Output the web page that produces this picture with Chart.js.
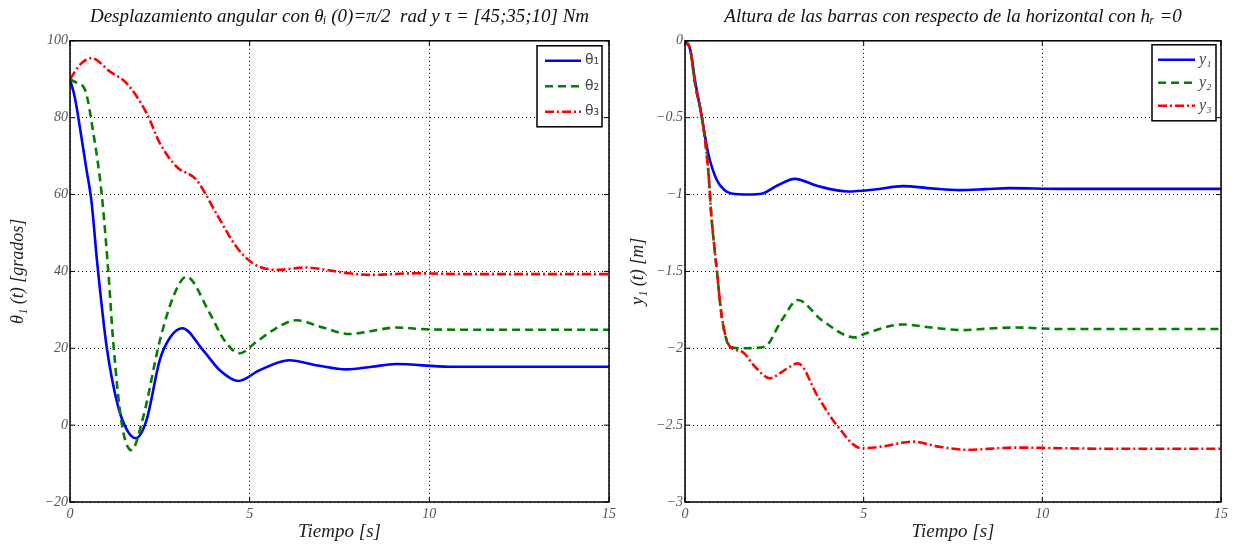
<!DOCTYPE html>
<html><head><meta charset="utf-8">
<script src="https://cdn.jsdelivr.net/npm/chart.js@4.4.1/dist/chart.umd.min.js"></script>
<style>
html,body{margin:0;padding:0;background:#fff;}
#wrapL{position:absolute;left:0;top:0;width:620px;height:550px;}
#wrapR{position:absolute;left:620px;top:0;width:621px;height:550px;}
</style></head><body>
<div id="wrapL"><canvas id="cL"></canvas></div>
<div id="wrapR"><canvas id="cR"></canvas></div>
<script>
// ---------- Data (left: angular displacement, degrees) ----------
const tTheta1 = [0,0.14,0.3,0.45,0.6,0.76,1.02,1.34,1.6,1.83,2.13,2.5,2.8,3.13,3.7,4.2,4.68,5.28,6.1,6.9,7.7,8.4,9.07,10.56,12,15];
const theta1  = [90,85,76,67,58,42,20.4,4.8,-1.5,-3.4,1.3,17,23,25.2,19.5,14,11.5,14.3,16.9,15.5,14.5,15.2,15.9,15.2,15.2,15.2];
const tTheta2 = [0,0.2,0.42,0.65,0.88,1.07,1.2,1.44,1.71,2.04,2.5,2.9,3.24,3.89,4.3,4.72,5.19,5.7,6.3,7.0,7.78,8.4,9.07,10,12,15];
const theta2  = [90,89,87.2,76,60.3,39.5,22,0.4,-6.5,2.2,22,34,38.6,29.1,22,18.7,21.7,25,27.3,25.5,23.7,24.5,25.4,24.9,24.8,24.8];
const tTheta3 = [0,0.3,0.6,1.11,1.57,2.13,2.5,2.96,3.52,4.07,4.63,5.09,5.74,6.57,7.2,7.78,8.33,9.63,11,15];
const theta3  = [90,94,95.5,92,89,81.2,73.4,67.3,63.8,55.1,46.4,42.1,40.4,41,40.3,39.5,39.1,39.5,39.3,39.3];
const thetaTicks = [-20,0,20,40,60,80,100];

// ---------- Data (right: bar heights, m) ----------
const tY1 = [0,0.15,0.28,0.47,0.65,0.89,1.1,1.3,1.8,2.14,2.6,3.07,3.72,4.56,5.31,6.1,6.9,7.68,8.4,9.08,10.5,12,15];
const y1  = [0,-0.06,-0.257,-0.495,-0.733,-0.906,-0.97,-0.993,-1.0,-0.995,-0.94,-0.898,-0.945,-0.98,-0.967,-0.945,-0.96,-0.971,-0.965,-0.958,-0.963,-0.963,-0.963];
const tY2 = [0,0.15,0.28,0.47,0.65,0.74,0.89,1.03,1.26,1.6,2.23,2.7,3.16,3.82,4.75,5.07,6.1,6.9,7.77,8.5,9.27,10.5,12,15];
const y2  = [0,-0.06,-0.278,-0.495,-0.84,-1.145,-1.49,-1.795,-1.99,-2.0,-1.99,-1.82,-1.686,-1.816,-1.929,-1.903,-1.845,-1.865,-1.882,-1.872,-1.865,-1.875,-1.875,-1.875];
const tY3 = [0,0.15,0.28,0.47,0.65,0.74,0.89,1.03,1.26,1.58,1.96,2.37,2.8,3.16,3.72,4.28,4.93,5.5,6.38,7.1,7.87,9.27,10.5,12,15];
const y3  = [0,-0.06,-0.278,-0.495,-0.84,-1.145,-1.49,-1.795,-1.99,-2.02,-2.12,-2.195,-2.14,-2.098,-2.315,-2.51,-2.65,-2.64,-2.607,-2.64,-2.66,-2.646,-2.65,-2.654,-2.654];
const yTicks = [-3,-2.5,-2,-1.5,-1,-0.5,0];
const timeTicks = [0,5,10,15];

const pts = (t, v) => t.map((x, i) => ({x, y: v[i]}));
const minus = v => String(v).replace('-', '\u2212');

const SERIF = '"Liberation Serif", "DejaVu Serif", serif';

const framePlugin = {
  id: 'frameLegend',
  afterDatasetsDraw(chart, args, o) {
    const ctx = chart.ctx, a = chart.chartArea;
    ctx.save();
    ctx.setLineDash([]);
    ctx.strokeStyle = '#000';
    ctx.lineWidth = 1.5;
    ctx.strokeRect(a.left, a.top, a.right - a.left, a.bottom - a.top);
    // inward tick marks
    ctx.lineWidth = 1;
    const xs = chart.scales.x, ys = chart.scales.y;
    xs.ticks.forEach(t => {
      const px = xs.getPixelForValue(t.value);
      ctx.beginPath(); ctx.moveTo(px, a.bottom); ctx.lineTo(px, a.bottom - 5);
      ctx.moveTo(px, a.top); ctx.lineTo(px, a.top + 5); ctx.stroke();
    });
    ys.ticks.forEach(t => {
      const py = ys.getPixelForValue(t.value);
      ctx.beginPath(); ctx.moveTo(a.left, py); ctx.lineTo(a.left + 5, py);
      ctx.moveTo(a.right, py); ctx.lineTo(a.right - 5, py); ctx.stroke();
    });
    // legend box
    const x = a.right - o.offsetRight - o.width, y = a.top + o.offsetTop;
    ctx.fillStyle = '#fff';
    ctx.fillRect(x, y, o.width, o.height);
    ctx.strokeStyle = '#000'; ctx.lineWidth = 1.5;
    ctx.strokeRect(x, y, o.width, o.height);
    chart.data.datasets.forEach((ds, i) => {
      const ly = y + o.rowStart + i * o.rowGap;
      ctx.strokeStyle = ds.borderColor; ctx.lineWidth = ds.borderWidth;
      ctx.setLineDash(ds.borderDash || []);
      ctx.beginPath(); ctx.moveTo(x + o.lineX0, ly); ctx.lineTo(x + o.lineX1, ly); ctx.stroke();
      ctx.setLineDash([]);
      ctx.fillStyle = '#444'; ctx.font = o.font;
      ctx.textBaseline = 'middle'; ctx.textAlign = 'left';
      ctx.fillText(ds.label, x + o.lineX1 + 4, ly);
    });
    ctx.restore();
  }
};

function makeChart(id, cfg) {
  return new Chart(document.getElementById(id), {
    type: 'line',
    data: { datasets: cfg.datasets },
    plugins: [framePlugin],
    options: {
      responsive: true, maintainAspectRatio: false, animation: false,
      layout: { padding: { right: cfg.padRight, left: 0, top: 0, bottom: 0 } },
      elements: { point: { radius: 0 }, line: { cubicInterpolationMode: 'monotone', fill: false } },
      plugins: {
        legend: { display: false },
        tooltip: { enabled: false },
        title: {
          display: true, text: cfg.title, fullSize: false,
          font: { family: SERIF, style: 'italic', size: 19, weight: 'normal' },
          color: '#111', padding: { top: 6, bottom: 12 }
        },
        frameLegend: cfg.legend
      },
      scales: {
        x: {
          type: 'linear', min: 0, max: 15,
          afterBuildTicks: s => { s.ticks = timeTicks.map(v => ({value: v})); },
          afterFit: s => { s.height = 48; },
          ticks: { font: { family: SERIF, style: 'italic', size: 14 }, color: '#555', padding: 4, maxRotation: 0,
                   callback: v => minus(v) },
          grid: { color: '#000', lineWidth: 1, drawTicks: false },
          border: { display: false, dash: [1, 3] },
          title: { display: true, text: 'Tiempo [s]', color: '#222',
                   font: { family: SERIF, style: 'italic', size: 19 }, padding: { top: 0, bottom: 7 } }
        },
        y: {
          type: 'linear', min: cfg.yMin, max: cfg.yMax,
          afterBuildTicks: s => { s.ticks = cfg.yTicks.map(v => ({value: v})); },
          afterFit: s => { s.width = cfg.yWidth; },
          ticks: { font: { family: SERIF, style: 'italic', size: 14 }, color: '#555', padding: 2,
                   callback: v => minus(v) },
          grid: { color: '#000', lineWidth: 1, drawTicks: false },
          border: { display: false, dash: [1, 3] },
          title: { display: true, text: cfg.yTitle, color: '#222',
                   font: { family: SERIF, style: 'italic', size: 18 }, padding: { top: 7, bottom: 0 } }
        }
      }
    }
  });
}

const BLUE = '#0000ff', GREEN = '#007f00', RED = '#ff0000';
const DASH = [8, 5], DASHDOT = [9, 3, 2, 3];

makeChart('cL', {
  title: 'Desplazamiento angular con \u03B8\u1D62 (0)=\u03C0/2  rad y \u03C4 = [45;35;10] Nm',
  yTitle: '\u03B8\u2081 (t) [grados]',
  yMin: -20, yMax: 100, yTicks: thetaTicks, yWidth: 70, padRight: 10,
  legend: { width: 65, height: 81, offsetRight: 7, offsetTop: 5, rowStart: 15, rowGap: 25.5, lineX0: 8, lineX1: 44,
            font: '14px "DejaVu Sans", sans-serif' },
  datasets: [
    { label: '\u03B8\u2081', data: pts(tTheta1, theta1), borderColor: BLUE, borderWidth: 2.6, order: 3 },
    { label: '\u03B8\u2082', data: pts(tTheta2, theta2), borderColor: GREEN, borderWidth: 2.6, borderDash: DASH, order: 2 },
    { label: '\u03B8\u2083', data: pts(tTheta3, theta3), borderColor: RED, borderWidth: 2.6, borderDash: DASHDOT, order: 1 }
  ]
});

makeChart('cR', {
  title: 'Altura de las barras con respecto de la horizontal con h\u1D63 =0',
  yTitle: 'y\u2081 (t) [m]',
  yMin: -3, yMax: 0, yTicks: yTicks, yWidth: 65, padRight: 20,
  legend: { width: 64, height: 76, offsetRight: 5, offsetTop: 4, rowStart: 15, rowGap: 23, lineX0: 6, lineX1: 43,
            font: 'italic 16px "Liberation Serif", serif' },
  datasets: [
    { label: 'y\u2081', data: pts(tY1, y1), borderColor: BLUE, borderWidth: 2.6, order: 3 },
    { label: 'y\u2082', data: pts(tY2, y2), borderColor: GREEN, borderWidth: 2.6, borderDash: DASH, order: 2 },
    { label: 'y\u2083', data: pts(tY3, y3), borderColor: RED, borderWidth: 2.6, borderDash: DASHDOT, order: 1 }
  ]
});
</script>
</body></html>
